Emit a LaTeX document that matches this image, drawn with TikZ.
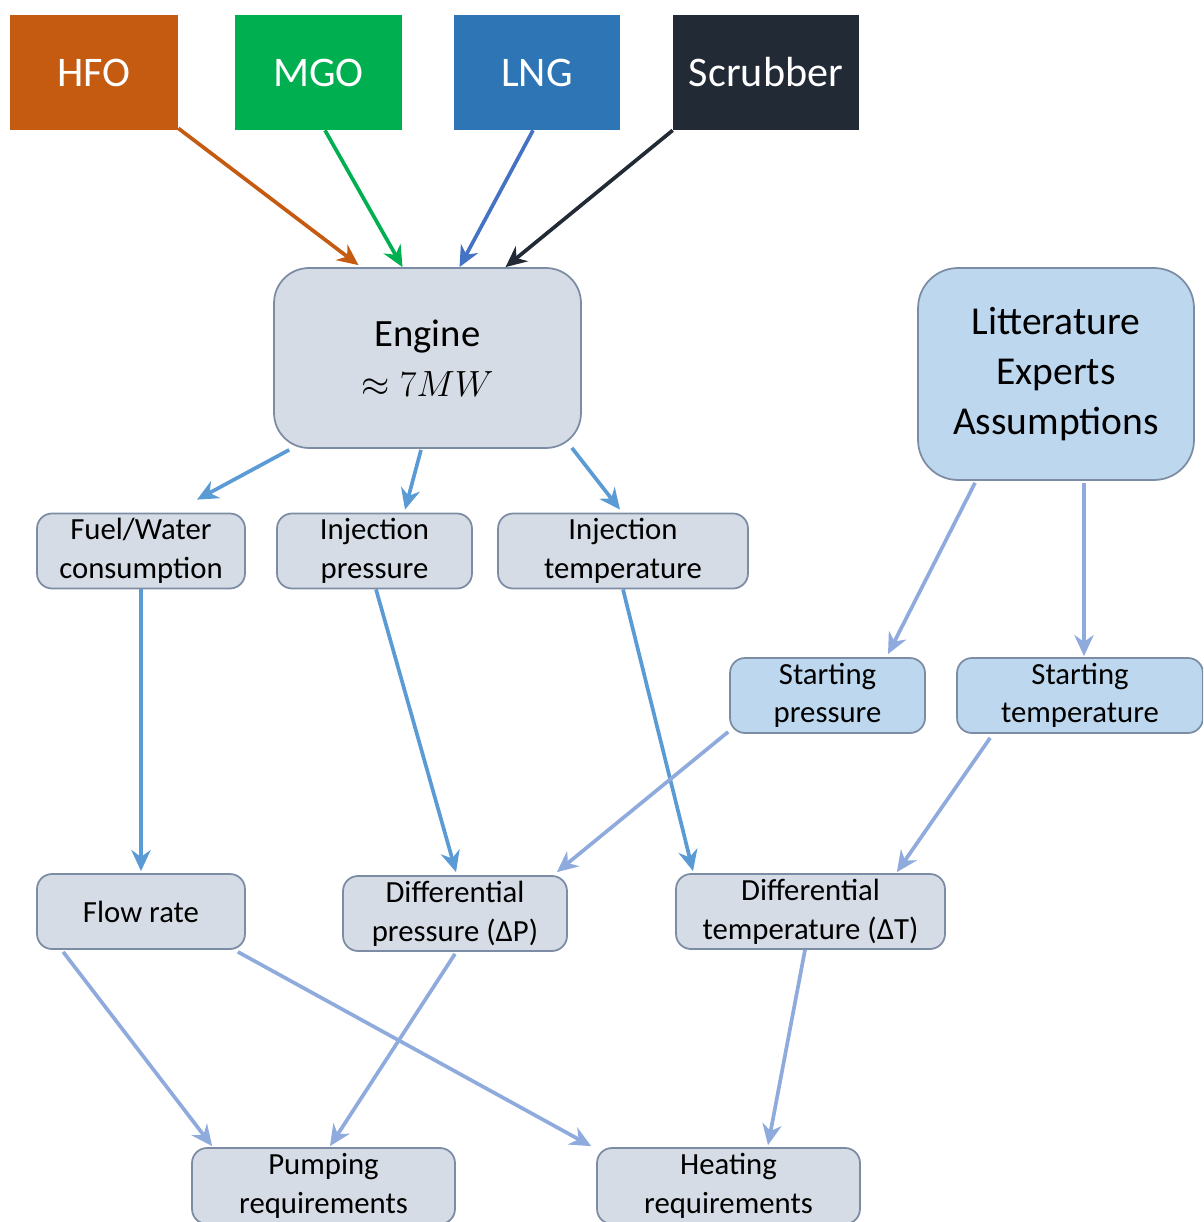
\documentclass[tikz,border=0pt]{standalone}
\usepackage{fontspec}
\setmainfont{Carlito}
\usepackage{amsmath}
\usepackage{amssymb}
\usetikzlibrary{arrows.meta,calc}
\definecolor{hfocol}{HTML}{C55A11}
\definecolor{mgocol}{HTML}{00B050}
\definecolor{lngcol}{HTML}{2E75B6}
\definecolor{lngarr}{HTML}{4472C4}
\definecolor{scrubcol}{HTML}{222A35}
\definecolor{greyfill}{HTML}{D6DCE5}
\definecolor{bluefill}{HTML}{BDD7EE}
\definecolor{boxline}{HTML}{7C8CA4}
\definecolor{midarr}{HTML}{5B9BD5}
\definecolor{lightarr}{HTML}{8FAADC}
\tikzset{
  fuelbox/.style={rectangle, inner sep=0pt, minimum height=2.3cm, text=white,
    font=\fontsize{24}{28}\selectfont},
  stepbox/.style={rectangle, rounded corners=0.3cm, draw=boxline, line width=1pt,
    fill=greyfill, inner sep=0pt, minimum height=1.5cm, align=center,
    font=\fontsize{17.5}{22}\selectfont},
  fuelarr/.style={->, line width=2.1pt},
  flowarr/.style={->, line width=2.1pt, midarr},
  liteflow/.style={->, line width=2.1pt, lightarr},
}
\begin{document}
\begin{tikzpicture}[x=0.02cm,y=-0.02cm,>={Stealth[length=12pt,width=11pt]}]
\useasboundingbox (0,0) rectangle (1203,1222);
\begin{scope}
\clip (0,0) rectangle (1203,1222);
% fuels
\node[fuelbox, fill=hfocol, minimum width=3.36cm] (hfo) at (94,72.5) {HFO};
\node[fuelbox, fill=mgocol, minimum width=3.34cm] (mgo) at (318.5,72.5) {MGO};
\node[fuelbox, fill=lngcol, minimum width=3.32cm] (lng) at (537,72.5) {LNG};
\node[fuelbox, fill=scrubcol, minimum width=3.72cm] (scrub) at (766,72.5) {Scrubber};
% main boxes
\node[stepbox, rounded corners=0.7cm, minimum width=6.14cm, minimum height=3.6cm,
  font=\fontsize{22}{28.5}\selectfont] (engine) at (427.5,358) {Engine\\$\approx 7MW$};
\node[stepbox, fill=bluefill, rounded corners=0.8cm, minimum width=5.52cm, minimum height=4.24cm,
  font=\fontsize{22.5}{28.5}\selectfont] (lit) at (1056,374) {Litterature\\Experts\\Assumptions};
\node[stepbox, minimum width=4.16cm] (fuel) at (141,551) {Fuel/Water\\consumption};
\node[stepbox, minimum width=3.9cm] (injp) at (374.5,551) {Injection\\pressure};
\node[stepbox, minimum width=5cm] (injt) at (623,551) {Injection\\temperature};
\node[stepbox, fill=bluefill, minimum width=3.9cm] (startp) at (827.5,695.5) {Starting\\pressure};
\node[stepbox, fill=bluefill, minimum width=4.92cm] (startt) at (1080,695.5) {Starting\\temperature};
\node[stepbox, minimum width=4.16cm] (flow) at (141,911.5) {Flow rate};
\node[stepbox, minimum width=4.48cm] (diffp) at (455,913.5) {Differential\\pressure (ΔP)};
\node[stepbox, minimum width=5.38cm] (difft) at (810.5,911.5) {Differential\\temperature (ΔT)};
\node[stepbox, minimum width=5.26cm, minimum height=1.52cm] (pump) at (323.5,1186) {Pumping\\requirements};
\node[stepbox, minimum width=5.26cm, minimum height=1.52cm] (heat) at (728.5,1186) {Heating\\requirements};
% fuels into engine
\draw[fuelarr, hfocol] ($(hfo.south east)+(0,-2)$) -- ($(engine.north)+(-69,-2)$);
\draw[fuelarr, mgocol] ($(mgo.south)+(6.5,0)$) -- ($(engine.north)+(-25,0)$);
\draw[fuelarr, lngarr] ($(lng.south)+(-4,0)$) -- ($(engine.north)+(32,0)$);
\draw[fuelarr, scrubcol] (scrub.south west) -- ($(engine.north)+(78,0)$);
% engine outputs
\draw[flowarr] ($(engine.south west)+(16,1)$) -- ($(fuel.north)+(56,-13)$);
\draw[flowarr] ($(engine.south)+(-6.5,1)$) -- ($(injp.north)+(30.5,-3)$);
\draw[flowarr] ($(engine.south east)+(-10,-1)$) -- ($(injt.north)+(-3,-3)$);
\draw[flowarr] (fuel.south) -- ($(flow.north)+(0,-2)$);
\draw[flowarr] ($(injp.south)+(1.5,0)$) -- ($(diffp.north)+(1,-3)$);
\draw[flowarr] (injt.south) -- ($(difft.north)+(-117.5,-2)$);
% assumptions
\draw[liteflow] ($(lit.south)+(-81,2)$) -- ($(startp.north)+(60.5,-3)$);
\draw[liteflow] ($(lit.south)+(28,2)$) -- ($(startt.north)+(4,-1)$);
\draw[liteflow] ($(startp.south west)+(-1,-2)$) -- ($(diffp.north east)+(-11,-3)$);
\draw[liteflow] ($(startt.south west)+(34,4)$) -- ($(difft.north east)+(-49,-1)$);
% requirements
\draw[liteflow] ($(flow.south west)+(27,2)$) -- ($(pump.north west)+(21,-1)$);
\draw[liteflow] ($(flow.south east)+(-8,2)$) -- ($(heat.north west)+(-5,-1)$);
\draw[liteflow] ($(diffp.south)+(0,2)$) -- ($(pump.north)+(6.5,-1)$);
\draw[liteflow] ($(difft.south)+(-5.5,0)$) -- ($(heat.north)+(39.5,-2)$);
\end{scope}
\end{tikzpicture}
\end{document}
